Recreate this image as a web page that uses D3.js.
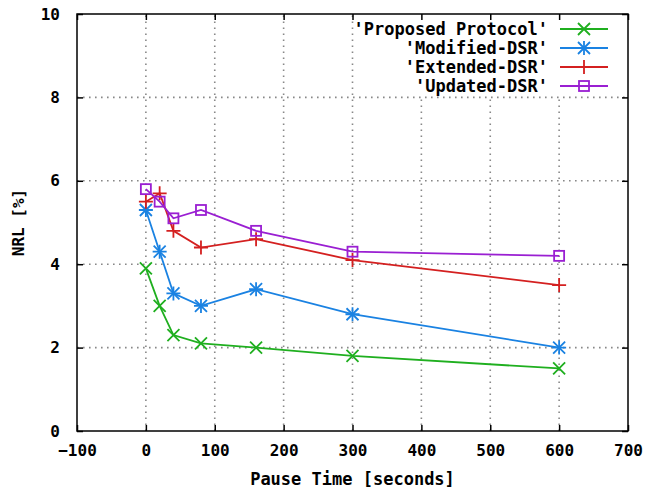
<!DOCTYPE html>
<html lang="en">
<head>
    <meta charset="UTF-8">
    <title>NRL vs Pause Time</title>
    <style>
        body { margin: 0; background: #fff; }
        svg text { font-family: "DejaVu Sans Mono", "Liberation Mono", monospace; font-weight: bold; font-size: 17px; fill: #000; }
    </style>
</head>
<body>
    <script src="https://d3js.org/d3.v7.min.js"></script>
    <div id="chart"></div>
    <script>

// Data
const pauseTimes = [0, 20, 40, 80, 160, 300, 600];
const seriesNames = ["'Proposed Protocol'", "'Modified-DSR'", "'Extended-DSR'", "'Updated-DSR'"];
const proposed = [3.9, 3.0, 2.3, 2.1, 2.0, 1.8, 1.5];
const modified = [5.3, 4.3, 3.3, 3.0, 3.4, 2.8, 2.0];
const extended = [5.5, 5.7, 4.8, 4.4, 4.6, 4.1, 3.5];
const updated = [5.8, 5.5, 5.1, 5.3, 4.8, 4.3, 4.2];
const xTicks = [-100, 0, 100, 200, 300, 400, 500, 600, 700];
const yTicks = [0, 2, 4, 6, 8, 10];

const width = 648;
const height = 488;
const margin = { top: 14, right: 20, bottom: 57, left: 77 };

const series = [
    { name: seriesNames[0], values: proposed, color: "#1faf1f", marker: "x" },
    { name: seriesNames[1], values: modified, color: "#1a82e2", marker: "star" },
    { name: seriesNames[2], values: extended, color: "#d42020", marker: "plus" },
    { name: seriesNames[3], values: updated, color: "#9a1fd2", marker: "square" }
];

const svg = d3.select("#chart").append("svg")
    .attr("width", width)
    .attr("height", height);

const x = d3.scaleLinear().domain([-100, 700]).range([margin.left, width - margin.right]);
const y = d3.scaleLinear().domain([0, 10]).range([height - margin.bottom, margin.top]);

// Dotted grid
svg.append("g")
    .selectAll("line")
    .data(xTicks.slice(1, -1))
    .enter().append("line")
    .attr("x1", d => x(d)).attr("x2", d => x(d))
    .attr("y1", y(0)).attr("y2", y(10))
    .attr("stroke", "#888").attr("stroke-width", 1.6).attr("stroke-dasharray", "1.6,4.4");

svg.append("g")
    .selectAll("line")
    .data(yTicks.slice(1, -1))
    .enter().append("line")
    .attr("x1", x(-100)).attr("x2", x(700))
    .attr("y1", d => y(d)).attr("y2", d => y(d))
    .attr("stroke", "#888").attr("stroke-width", 1.6).attr("stroke-dasharray", "1.6,4.4");

// Legend background hides the grid behind it
svg.append("rect")
    .attr("x", 356).attr("y", y(10) + 1)
    .attr("width", x(700) - 357).attr("height", y(8) - y(10) - 3)
    .attr("fill", "#fff");

// Axes with inward ticks on all four sides
svg.append("g")
    .attr("transform", "translate(0," + y(0) + ")")
    .call(d3.axisBottom(x).tickValues(xTicks).tickSizeInner(-6).tickSizeOuter(0).tickPadding(14))
    .call(g => g.select(".domain").remove());

svg.append("g")
    .attr("transform", "translate(0," + y(10) + ")")
    .call(d3.axisTop(x).tickValues(xTicks).tickSizeInner(-6).tickSizeOuter(0).tickFormat(""))
    .call(g => g.select(".domain").remove());

svg.append("g")
    .attr("transform", "translate(" + x(-100) + ",0)")
    .call(d3.axisLeft(y).tickValues(yTicks).tickSizeInner(-6).tickSizeOuter(0).tickPadding(17))
    .call(g => g.select(".domain").remove());

svg.append("g")
    .attr("transform", "translate(" + x(700) + ",0)")
    .call(d3.axisRight(y).tickValues(yTicks).tickSizeInner(-6).tickSizeOuter(0).tickFormat(""))
    .call(g => g.select(".domain").remove());

svg.selectAll(".tick line").attr("stroke", "#000").attr("stroke-width", 1.5);
svg.selectAll(".tick text")
    .style("font-family", "'DejaVu Sans Mono', monospace")
    .style("font-weight", "bold")
    .style("font-size", "16px")
    .attr("fill", "#000");

// Plot border
svg.append("rect")
    .attr("x", x(-100)).attr("y", y(10))
    .attr("width", x(700) - x(-100)).attr("height", y(0) - y(10))
    .attr("fill", "none").attr("stroke", "#000").attr("stroke-width", 1.5);

// Axis titles
svg.append("text")
    .attr("x", (x(-100) + x(700)) / 2).attr("y", 485)
    .attr("text-anchor", "middle")
    .text("Pause Time [seconds]");

svg.append("text")
    .attr("transform", "translate(24," + (y(0) + y(10)) / 2 + ") rotate(-90)")
    .attr("text-anchor", "middle")
    .style("font-size", "16px")
    .text("NRL [%]");

// Marker drawing
function drawMarker(g, type, cx, cy, color) {
    const s = 6;
    if (type === "x" || type === "star") {
        g.append("path")
            .attr("d", `M${cx - s},${cy - s}L${cx + s},${cy + s}M${cx - s},${cy + s}L${cx + s},${cy - s}`)
            .attr("stroke", color).attr("stroke-width", 1.8);
    }
    if (type === "plus" || type === "star") {
        g.append("path")
            .attr("d", `M${cx - s - 1},${cy}L${cx + s + 1},${cy}M${cx},${cy - s - 1}L${cx},${cy + s + 1}`)
            .attr("stroke", color).attr("stroke-width", 1.8);
    }
    if (type === "square") {
        g.append("rect")
            .attr("x", cx - 5).attr("y", cy - 5)
            .attr("width", 10).attr("height", 10)
            .attr("fill", "none").attr("stroke", color).attr("stroke-width", 1.8);
    }
}

const line = d3.line()
    .x((d, i) => x(pauseTimes[i]))
    .y(d => y(d));

series.forEach(s => {
    const g = svg.append("g");
    g.append("path")
        .attr("d", line(s.values))
        .attr("fill", "none")
        .attr("stroke", s.color)
        .attr("stroke-width", 1.8);
    s.values.forEach((v, i) => drawMarker(g, s.marker, x(pauseTimes[i]), y(v), s.color));
});

// Legend
series.forEach((s, i) => {
    const ly = 29 + i * 19;
    svg.append("text")
        .attr("x", 548).attr("y", ly)
        .attr("dy", "0.35em")
        .attr("text-anchor", "end")
        .text(s.name);
    svg.append("line")
        .attr("x1", 560).attr("x2", 608)
        .attr("y1", ly).attr("y2", ly)
        .attr("stroke", s.color).attr("stroke-width", 1.8);
    drawMarker(svg, s.marker, 584, ly, s.color);
});

    </script>
</body>
</html>
